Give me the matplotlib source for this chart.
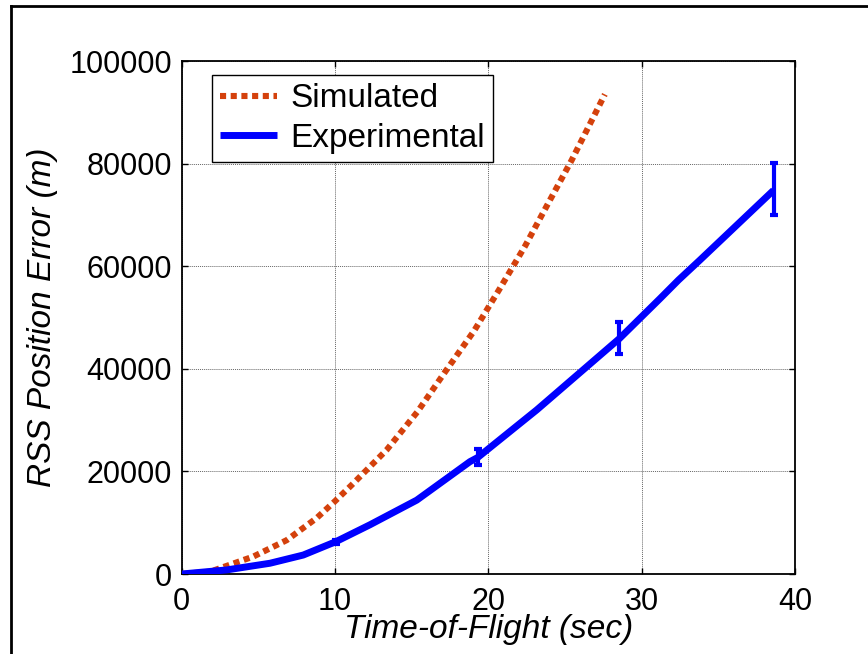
import matplotlib
matplotlib.use("Agg")
import matplotlib.pyplot as plt
from matplotlib.lines import Line2D

plt.rcParams["font.family"] = ["Liberation Sans", "DejaVu Sans"]

# simulated RSS error vs time of flight
sim_t = [0.0, 1.85, 4.67, 6.85, 8.8, 10.0, 11.07, 13.37, 15.37, 17.18, 19.07,
         20.76, 22.39, 23.91, 25.44, 27.6]
sim_err = [0, 450, 3400, 6600, 10900, 14200, 17300, 24200, 31600, 39400, 47400,
           55700, 63900, 72300, 80700, 93500]

# experimental RSS error vs time of flight
exp_t = [0.0, 2.94, 5.76, 7.93, 10.05, 12.28, 15.33, 18.8, 19.3, 23.16, 28.55, 31.2,
         32.4, 33.8, 38.6]
exp_err = [0, 800, 2100, 3700, 6300, 9600, 14400, 21900, 22700, 32000, 45900, 53700,
           57300, 61200, 74800]

# error bars at the experimental checkpoints
bar_t = [10.05, 19.3, 28.55, 38.6]
bar_mid = [6300, 22700, 45900, 74800]
bar_low = [5900, 21200, 42900, 69900]
bar_high = [6700, 24400, 49200, 80200]

fig = plt.figure(figsize=(8.68, 6.54), dpi=100)
ax = fig.add_axes([0.2093, 0.1223, 0.7066, 0.7844])

ax.plot(sim_t, sim_err, color="#D4410C", linewidth=4.4,
        linestyle=(0, (1.0, 0.75)), dash_capstyle="butt", label="Simulated", zorder=3)
ax.plot(exp_t, exp_err, color="#0000FF", linewidth=5.0, label="Experimental",
        solid_capstyle="butt", zorder=4)

yerr = [[m - lo for m, lo in zip(bar_mid, bar_low)],
        [hi - m for m, hi in zip(bar_mid, bar_high)]]
ax.errorbar(bar_t, bar_mid, yerr=yerr, fmt="none", ecolor="#0000FF",
            elinewidth=3.0, capsize=3.2, capthick=3.0, zorder=5)

ax.set_xlim(0, 40)
ax.set_ylim(0, 100000)
ax.set_xticks([0, 10, 20, 30, 40])
ax.set_yticks([0, 20000, 40000, 60000, 80000, 100000])
ax.set_yticklabels(["0", "20000", "40000", "60000", "80000", "100000"])

ax.grid(True, linestyle=(0, (1, 1)), color="#666666", linewidth=0.7)
ax.tick_params(direction="in", length=4, width=1, top=True, right=True,
               labelsize=22, pad=7)
ax.tick_params(axis="x", pad=9)
for s in ax.spines.values():
    s.set_linewidth(1.3)
    s.set_color("black")

ax.set_xlabel("Time-of-Flight (sec)", fontsize=24, style="italic", labelpad=-2)
ax.set_ylabel("RSS Position Error (m)", fontsize=24, style="italic", labelpad=8)

leg = ax.legend(loc="upper left", bbox_to_anchor=(0.049, 0.9727), borderaxespad=0,
                fontsize=24, handlelength=1.7, handletextpad=0.4,
                labelspacing=0.26, borderpad=0.25, fancybox=False, framealpha=1)
leg.get_frame().set_edgecolor("black")
leg.get_frame().set_linewidth(1.0)

# outer frame, top and left edges
fig.add_artist(Line2D([11 / 868, 1.0], [1 - 6 / 654, 1 - 6 / 654],
                      transform=fig.transFigure, color="black", linewidth=2.0))
fig.add_artist(Line2D([11 / 868, 11 / 868], [0.0, 1 - 6 / 654],
                      transform=fig.transFigure, color="black", linewidth=2.0))

fig.savefig("out.png", dpi=100)
